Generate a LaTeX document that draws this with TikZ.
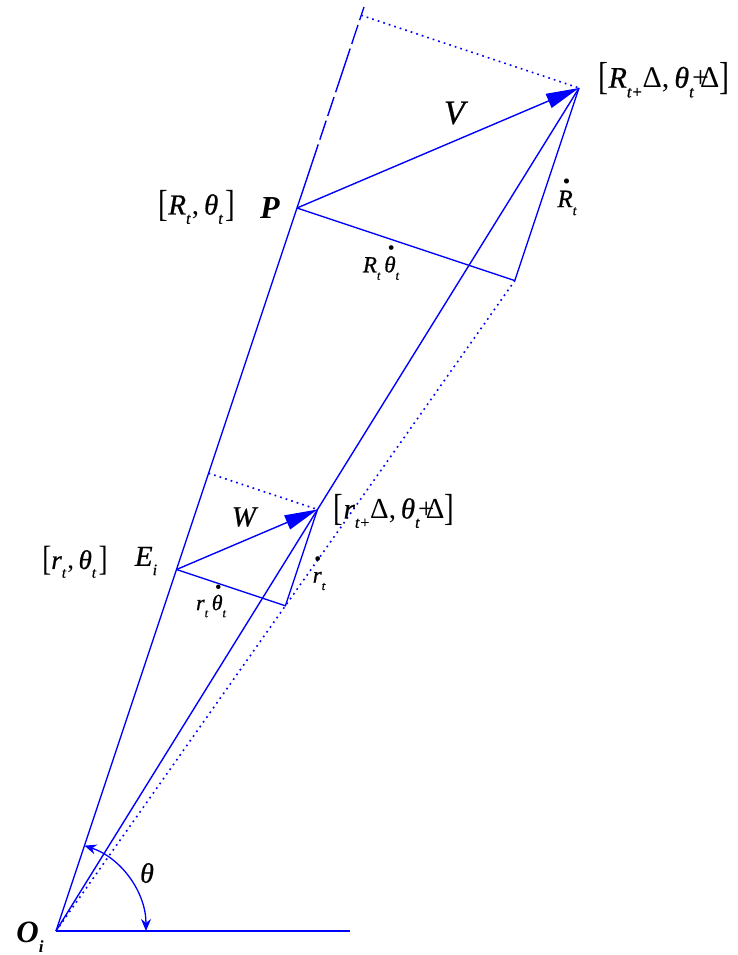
\documentclass[tikz,border=0pt]{standalone}
\usepackage{fontspec}
\setmainfont{Liberation Serif}[ItalicFeatures={FakeBold=0.7}]
\usepackage{graphicx}
\usetikzlibrary{arrows.meta}
\newcommand\sbs[1]{\raisebox{-0.32em}{\scalebox{0.55}{\itshape #1}}}
\newcommand\dotit[2][0.12em]{\ooalign{#2\cr\hidewidth\kern#1\raisebox{0.76em}{\scalebox{0.85}{•}}\hidewidth\cr}}
\newcommand\bigbr[1]{\raisebox{-0.06em}{\scalebox{1}[1.3]{#1}}}
\newcommand\fs[1]{\fontsize{#1}{#1}\selectfont}
\begin{document}
\begin{tikzpicture}[x=1pt,y=-1pt,
  ln/.style={draw=blue, line width=1.4pt},
  dotln/.style={draw=blue, line width=1.6pt, dash pattern=on 1.7pt off 4.1pt},
  lbl/.style={inner sep=0pt, text=black},
  bigtip/.style={-{Triangle[length=33pt,width=15pt]}},
  arctip/.style={{Stealth[length=12pt,width=10pt]}-{Stealth[length=12pt,width=10pt]}}]
\useasboundingbox (0,0) rectangle (737,955);
% points
\coordinate (O) at (56,931);
\coordinate (H) at (350,931);
\coordinate (P) at (297,208);
\coordinate (E) at (176.5,569.5);
\coordinate (A) at (579,88);
\coordinate (B) at (317.5,509.5);
\coordinate (Fa) at (361.2,15.3);
\coordinate (Fb) at (208.6,473.2);
\coordinate (Ca) at (514.8,280.6);
\coordinate (Cb) at (285.4,605.8);
\coordinate (Top) at (364,7);
\coordinate (Q1) at (311.9,163.4);
\coordinate (T0) at (146,931);
% lines
\draw[ln] (O) -- (P) -- (Q1);
\draw[ln, dash pattern=on 20pt off 5pt on 20pt off 5pt on 20pt off 5pt on 46pt off 5pt] (Q1) -- (Top);
\draw[ln] (O) -- (H);
\draw[ln] (O) -- (A);
\draw[dotln] (O) -- (Ca);
\draw[dotln] (Fa) -- (A);
\draw[dotln] (Fb) -- (B);
\draw[ln, bigtip] (P) -- (A);
\draw[ln] (P) -- (Ca) -- (A);
\draw[ln, bigtip] (E) -- (B);
\draw[ln] (E) -- (Cb) -- (B);
\draw[ln, line width=1.3pt, arctip] (T0) arc[start angle=0, end angle=-71.57, radius=90];
% labels
\node[lbl, font=\fs{30}] (lA) at (664,80) {\bigbr{[}\textit{R}\sbs{t+}Δ,\,\textit{θ}\sbs{t}\kern-0.05em+\kern-0.3emΔ\bigbr{]}};
\node[lbl, font=\fs{34}] (lV) at (456,113) {\textit{V}};
\node[lbl, font=\fs{29}] (lP0) at (197,207) {\bigbr{[}\textit{R}\sbs{t}\kern0.05em,\,\textit{θ}\sbs{t}\kern0.1em\bigbr{]}};
\node[lbl, font=\fs{32}\bfseries\itshape] (lP) at (270,208) {P};
\node[lbl, font=\fs{25}] (lRd) at (567,203) {\dotit{\textit{R}}\sbs{t}};
\node[lbl, font=\fs{23}] (lRth) at (381,268) {\textit{R}\sbs{t}\,\dotit{\textit{θ}}\sbs{t}};
\node[lbl, font=\fs{29}] (lW) at (245,517) {\textit{W}};
\node[lbl, font=\fs{29}] (lB) at (394,511) {\bigbr{[}\textit{r}\sbs{t+}Δ,\,\textit{θ}\sbs{t}\kern-0.05em+\kern-0.3emΔ\bigbr{]}};
\node[lbl, font=\fs{27}] (lE0) at (75,562) {\bigbr{[}\textit{r}\sbs{t}\kern0.05em,\,\textit{θ}\sbs{t}\kern0.1em\bigbr{]}};
\node[lbl, font=\fs{29}] (lE) at (146,561) {\textit{E}\sbs{i}};
\node[lbl, font=\fs{22}] (lrth) at (211,606) {\textit{r}\sbs{t}\,\dotit{\textit{θ}}\sbs{t}};
\node[lbl, font=\fs{23}] (lrd) at (319,581) {\dotit[0.05em]{\textit{r}}\sbs{t}};
\node[lbl, font=\fs{28}] (lth) at (147,873) {\textit{θ}};
\node[lbl, font=\fs{31}\bfseries\itshape] (lO) at (30,937) {O\sbs{i}};
\end{tikzpicture}
\end{document}
